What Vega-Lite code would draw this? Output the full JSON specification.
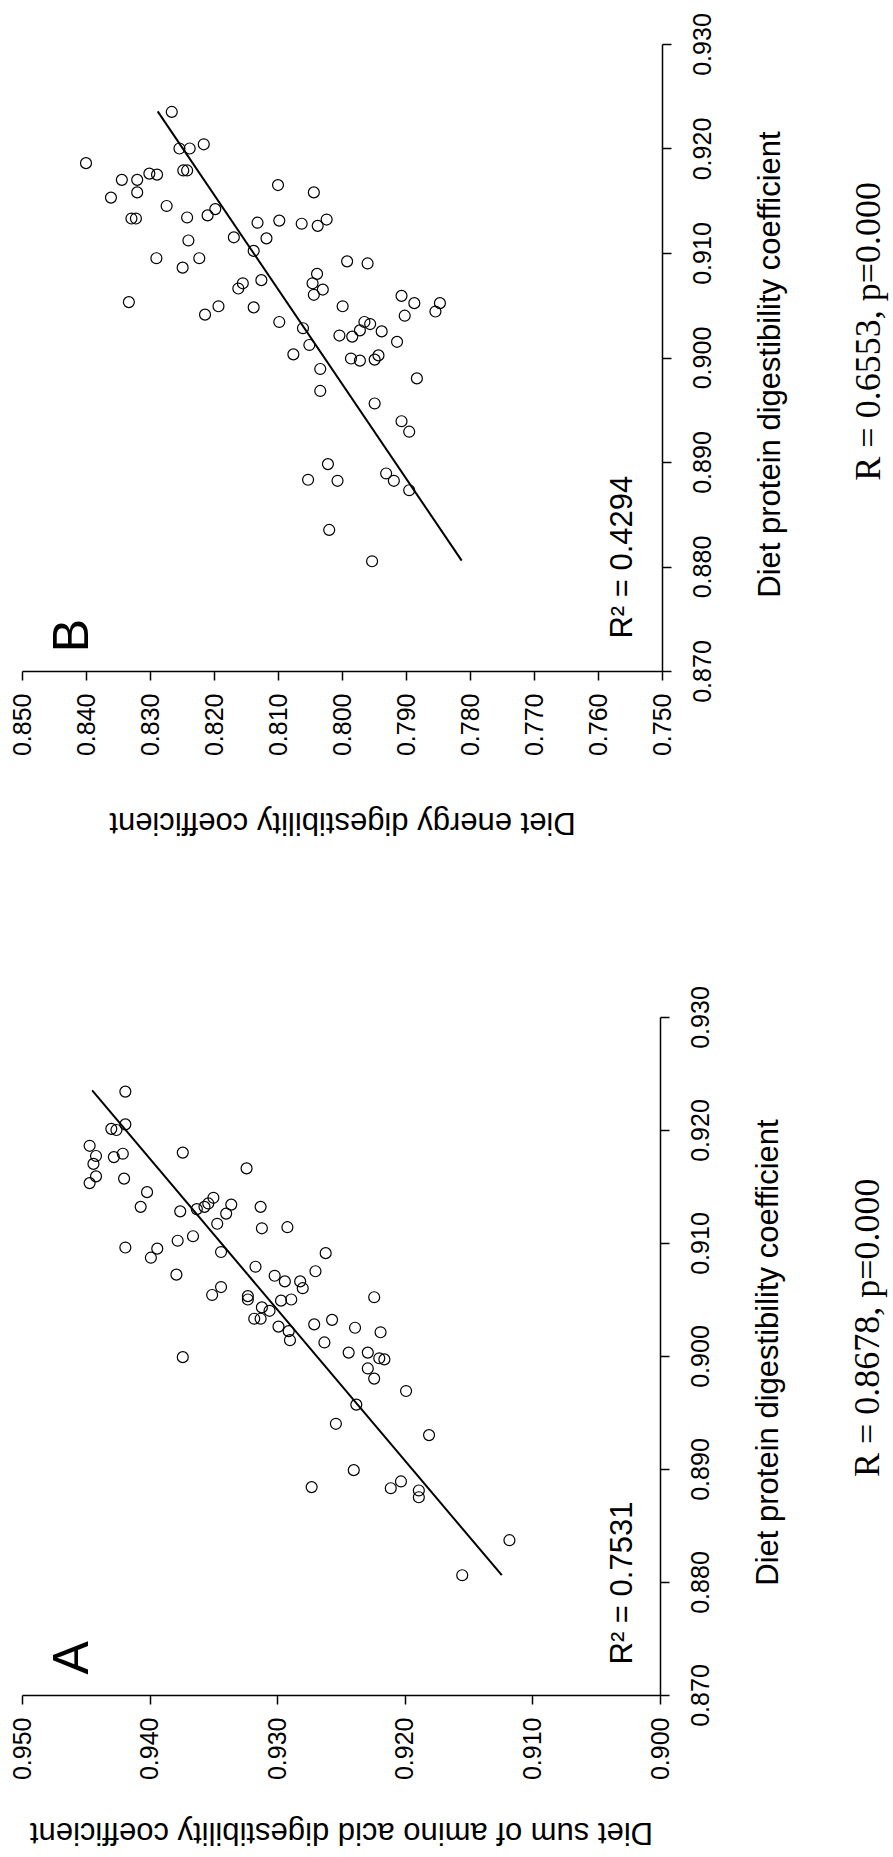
{
  "$schema": "https://vega.github.io/schema/vega-lite/v6.json",
  "padding": {"left": 10, "top": 12, "right": 5, "bottom": 5},
  "background": "white",
  "config": {
    "view": {"stroke": null},
    "font": "Liberation Sans",
    "axis": {"domainColor": "black", "domainWidth": 1.5, "tickColor": "black", "tickWidth": 1.5, "tickSize": 9, "labelColor": "black", "titleColor": "black", "grid": false, "labelFont": "Liberation Sans", "titleFont": "Liberation Sans", "labelFontSize": 25, "titleFontSize": 31, "titleFontWeight": "normal", "labelFlush": false, "labelOverlap": false, "labelBound": false}
  },
  "datasets": {
    "B": [
      {"energy":0.8400,"protein":0.9186},{"energy":0.8266,"protein":0.9235},{"energy":0.8216,"protein":0.9204},{"energy":0.8254,"protein":0.9200},{"energy":0.8238,"protein":0.9200},
      {"energy":0.8361,"protein":0.9153},{"energy":0.8344,"protein":0.9170},{"energy":0.8320,"protein":0.9170},{"energy":0.8320,"protein":0.9158},{"energy":0.8301,"protein":0.9176},
      {"energy":0.8289,"protein":0.9175},{"energy":0.8248,"protein":0.9179},{"energy":0.8242,"protein":0.9179},{"energy":0.8100,"protein":0.9165},{"energy":0.8044,"protein":0.9158},
      {"energy":0.8274,"protein":0.9145},{"energy":0.8198,"protein":0.9142},{"energy":0.8329,"protein":0.9133},{"energy":0.8322,"protein":0.9133},{"energy":0.8242,"protein":0.9134},
      {"energy":0.8210,"protein":0.9136},{"energy":0.8132,"protein":0.9129},{"energy":0.8098,"protein":0.9131},{"energy":0.8063,"protein":0.9128},{"energy":0.8038,"protein":0.9126},
      {"energy":0.8024,"protein":0.9132},{"energy":0.8240,"protein":0.9112},{"energy":0.8169,"protein":0.9115},{"energy":0.8118,"protein":0.9114},{"energy":0.8290,"protein":0.9095},
      {"energy":0.8223,"protein":0.9095},{"energy":0.8249,"protein":0.9086},{"energy":0.8138,"protein":0.9102},{"energy":0.7992,"protein":0.9092},{"energy":0.7960,"protein":0.9090},
      {"energy":0.8126,"protein":0.9074},{"energy":0.8162,"protein":0.9066},{"energy":0.8155,"protein":0.9071},{"energy":0.8039,"protein":0.9080},{"energy":0.8046,"protein":0.9071},
      {"energy":0.8030,"protein":0.9065},{"energy":0.8044,"protein":0.9060},{"energy":0.8333,"protein":0.9053},{"energy":0.8193,"protein":0.9049},{"energy":0.8138,"protein":0.9048},
      {"energy":0.8214,"protein":0.9041},{"energy":0.8098,"protein":0.9034},{"energy":0.8061,"protein":0.9028},{"energy":0.7999,"protein":0.9049},{"energy":0.7907,"protein":0.9059},
      {"energy":0.7887,"protein":0.9052},{"energy":0.7902,"protein":0.9040},{"energy":0.7854,"protein":0.9044},{"energy":0.7847,"protein":0.9052},{"energy":0.8004,"protein":0.9021},
      {"energy":0.7984,"protein":0.9020},{"energy":0.7972,"protein":0.9026},{"energy":0.7965,"protein":0.9034},{"energy":0.7956,"protein":0.9032},{"energy":0.7938,"protein":0.9025},
      {"energy":0.7914,"protein":0.9015},{"energy":0.8051,"protein":0.9012},{"energy":0.8076,"protein":0.9003},{"energy":0.7986,"protein":0.8999},{"energy":0.7972,"protein":0.8997},
      {"energy":0.7949,"protein":0.8998},{"energy":0.7943,"protein":0.9002},{"energy":0.8034,"protein":0.8989},{"energy":0.7883,"protein":0.8980},{"energy":0.8034,"protein":0.8968},
      {"energy":0.7949,"protein":0.8956},{"energy":0.7907,"protein":0.8939},{"energy":0.7895,"protein":0.8929},{"energy":0.8022,"protein":0.8898},{"energy":0.8053,"protein":0.8883},
      {"energy":0.8007,"protein":0.8882},{"energy":0.7931,"protein":0.8889},{"energy":0.7919,"protein":0.8882},{"energy":0.7895,"protein":0.8873},{"energy":0.8020,"protein":0.8835},
      {"energy":0.7953,"protein":0.8805}
    ],
    "Bfit": [{"energy":0.8288,"protein":0.92355},{"energy":0.7813,"protein":0.88056}],
    "A": [
      {"amino":0.9419,"protein":0.9234},{"amino":0.9419,"protein":0.9205},{"amino":0.9430,"protein":0.9201},{"amino":0.9426,"protein":0.9200},{"amino":0.9447,"protein":0.9186},
      {"amino":0.9374,"protein":0.9180},{"amino":0.9444,"protein":0.9170},{"amino":0.9442,"protein":0.9177},{"amino":0.9428,"protein":0.9176},{"amino":0.9421,"protein":0.9179},
      {"amino":0.9324,"protein":0.9166},{"amino":0.9442,"protein":0.9159},{"amino":0.9447,"protein":0.9153},{"amino":0.9420,"protein":0.9157},{"amino":0.9402,"protein":0.9145},
      {"amino":0.9407,"protein":0.9132},{"amino":0.9376,"protein":0.9128},{"amino":0.9363,"protein":0.9130},{"amino":0.9357,"protein":0.9132},{"amino":0.9354,"protein":0.9135},
      {"amino":0.9350,"protein":0.9140},{"amino":0.9336,"protein":0.9134},{"amino":0.9340,"protein":0.9126},{"amino":0.9313,"protein":0.9132},{"amino":0.9347,"protein":0.9117},
      {"amino":0.9312,"protein":0.9113},{"amino":0.9292,"protein":0.9114},{"amino":0.9419,"protein":0.9096},{"amino":0.9394,"protein":0.9095},{"amino":0.9399,"protein":0.9087},
      {"amino":0.9378,"protein":0.9102},{"amino":0.9366,"protein":0.9106},{"amino":0.9344,"protein":0.9092},{"amino":0.9262,"protein":0.9091},{"amino":0.9379,"protein":0.9072},
      {"amino":0.9317,"protein":0.9079},{"amino":0.9302,"protein":0.9071},{"amino":0.9294,"protein":0.9066},{"amino":0.9282,"protein":0.9066},{"amino":0.9280,"protein":0.9060},
      {"amino":0.9270,"protein":0.9075},{"amino":0.9344,"protein":0.9061},{"amino":0.9351,"protein":0.9054},{"amino":0.9323,"protein":0.9053},{"amino":0.9323,"protein":0.9050},
      {"amino":0.9297,"protein":0.9049},{"amino":0.9289,"protein":0.9050},{"amino":0.9224,"protein":0.9052},{"amino":0.9312,"protein":0.9043},{"amino":0.9306,"protein":0.9040},
      {"amino":0.9318,"protein":0.9033},{"amino":0.9313,"protein":0.9033},{"amino":0.9299,"protein":0.9026},{"amino":0.9291,"protein":0.9022},{"amino":0.9290,"protein":0.9014},
      {"amino":0.9271,"protein":0.9028},{"amino":0.9257,"protein":0.9032},{"amino":0.9239,"protein":0.9025},{"amino":0.9219,"protein":0.9021},{"amino":0.9263,"protein":0.9012},
      {"amino":0.9244,"protein":0.9003},{"amino":0.9229,"protein":0.9003},{"amino":0.9220,"protein":0.8998},{"amino":0.9216,"protein":0.8997},{"amino":0.9229,"protein":0.8989},
      {"amino":0.9224,"protein":0.8980},{"amino":0.9374,"protein":0.8999},{"amino":0.9199,"protein":0.8969},{"amino":0.9238,"protein":0.8957},{"amino":0.9254,"protein":0.8940},
      {"amino":0.9181,"protein":0.8930},{"amino":0.9240,"protein":0.8899},{"amino":0.9273,"protein":0.8884},{"amino":0.9211,"protein":0.8883},{"amino":0.9203,"protein":0.8889},
      {"amino":0.9189,"protein":0.8881},{"amino":0.9189,"protein":0.8875},{"amino":0.9118,"protein":0.8837},{"amino":0.9155,"protein":0.8806}
    ],
    "Afit": [{"amino":0.9445,"protein":0.9235},{"amino":0.9124,"protein":0.8806}],
    "one": [{}]
  },
  "bounds": "flush",
  "spacing": 346,
  "vconcat": [
    {
      "width": 640,
      "height": 627,
      "layer": [
        {
          "data": {"name": "B"},
          "mark": {"type": "point", "shape": "circle", "filled": false, "stroke": "black", "strokeWidth": 1.2, "size": 120, "opacity": 1},
          "encoding": {
            "x": {"field": "energy", "type": "quantitative", "scale": {"domain": [0.75, 0.85], "reverse": true, "zero": false, "nice": false},
              "axis": {"orient": "bottom", "values": [0.75,0.76,0.77,0.78,0.79,0.8,0.81,0.82,0.83,0.84,0.85], "format": ".3f", "labelAngle": 270, "labelAlign": "right", "labelBaseline": "middle", "labelPadding": 13,
                "title": "Diet energy digestibility coefficient", "titleAngle": 180, "titleBaseline": "bottom", "titleAlign": "center", "titleX": 320, "titleY": 134}},
            "y": {"field": "protein", "type": "quantitative", "scale": {"domain": [0.87, 0.93], "zero": false, "nice": false},
              "axis": {"orient": "right", "values": [0.87,0.88,0.89,0.9,0.91,0.92,0.93], "format": ".3f", "labelAngle": 270, "labelAlign": "center", "labelBaseline": "top", "labelPadding": 19,
                "title": "Diet protein digestibility coefficient", "titleAngle": 270, "titleBaseline": "top", "titleAlign": "center", "titleX": 93, "titleY": 320}}
          }
        },
        {
          "data": {"name": "Bfit"},
          "mark": {"type": "line", "color": "black", "strokeWidth": 2},
          "encoding": {
            "x": {"field": "energy", "type": "quantitative"},
            "y": {"field": "protein", "type": "quantitative"}
          }
        },
        {
          "data": {"name": "one"},
          "mark": {"type": "text", "text": "B", "angle": 270, "fontSize": 50, "align": "center", "baseline": "middle", "font": "Liberation Sans", "color": "black"},
          "encoding": {
            "x": {"datum": 0.8420, "type": "quantitative"},
            "y": {"datum": 0.8734, "type": "quantitative"}
          }
        },
        {
          "data": {"name": "one"},
          "mark": {"type": "text", "text": "R² = 0.4294", "angle": 270, "fontSize": 31, "align": "left", "baseline": "alphabetic", "font": "Liberation Sans", "color": "black"},
          "encoding": {
            "x": {"datum": 0.7547, "type": "quantitative"},
            "y": {"datum": 0.8731, "type": "quantitative"}
          }
        },
        {
          "data": {"name": "one"},
          "mark": {"type": "text", "text": "R = 0.6553, p=0.000", "angle": 270, "fontSize": 36, "align": "center", "baseline": "alphabetic", "font": "Liberation Serif", "color": "black"},
          "encoding": {
            "x": {"datum": 0.7160, "type": "quantitative"},
            "y": {"datum": 0.9025, "type": "quantitative"}
          }
        }
      ]
    },
    {
      "width": 638,
      "height": 678,
      "layer": [
        {
          "data": {"name": "A"},
          "mark": {"type": "point", "shape": "circle", "filled": false, "stroke": "black", "strokeWidth": 1.2, "size": 120, "opacity": 1},
          "encoding": {
            "x": {"field": "amino", "type": "quantitative", "scale": {"domain": [0.9, 0.95], "reverse": true, "zero": false, "nice": false},
              "axis": {"orient": "bottom", "values": [0.9,0.91,0.92,0.93,0.94,0.95], "format": ".3f", "labelAngle": 270, "labelAlign": "right", "labelBaseline": "middle", "labelPadding": 13,
                "title": "Diet sum of amino acid digestibility coefficient", "titleAngle": 180, "titleBaseline": "bottom", "titleAlign": "center", "titleX": 319, "titleY": 120}},
            "y": {"field": "protein", "type": "quantitative", "scale": {"domain": [0.87, 0.93], "zero": false, "nice": false},
              "axis": {"orient": "right", "values": [0.87,0.88,0.89,0.9,0.91,0.92,0.93], "format": ".3f", "labelAngle": 270, "labelAlign": "center", "labelBaseline": "top", "labelPadding": 19,
                "title": "Diet protein digestibility coefficient", "titleAngle": 270, "titleBaseline": "top", "titleAlign": "center", "titleX": 93, "titleY": 335}}
          }
        },
        {
          "data": {"name": "Afit"},
          "mark": {"type": "line", "color": "black", "strokeWidth": 2},
          "encoding": {
            "x": {"field": "amino", "type": "quantitative"},
            "y": {"field": "protein", "type": "quantitative"}
          }
        },
        {
          "data": {"name": "one"},
          "mark": {"type": "text", "text": "A", "angle": 270, "fontSize": 50, "align": "center", "baseline": "middle", "font": "Liberation Sans", "color": "black"},
          "encoding": {
            "x": {"datum": 0.9460, "type": "quantitative"},
            "y": {"datum": 0.8733, "type": "quantitative"}
          }
        },
        {
          "data": {"name": "one"},
          "mark": {"type": "text", "text": "R² = 0.7531", "angle": 270, "fontSize": 31, "align": "left", "baseline": "alphabetic", "font": "Liberation Sans", "color": "black"},
          "encoding": {
            "x": {"datum": 0.9022, "type": "quantitative"},
            "y": {"datum": 0.8727, "type": "quantitative"}
          }
        },
        {
          "data": {"name": "one"},
          "mark": {"type": "text", "text": "R = 0.8678, p=0.000", "angle": 270, "fontSize": 36, "align": "center", "baseline": "alphabetic", "font": "Liberation Serif", "color": "black"},
          "encoding": {
            "x": {"datum": 0.8828, "type": "quantitative"},
            "y": {"datum": 0.9025, "type": "quantitative"}
          }
        }
      ]
    }
  ]
}
